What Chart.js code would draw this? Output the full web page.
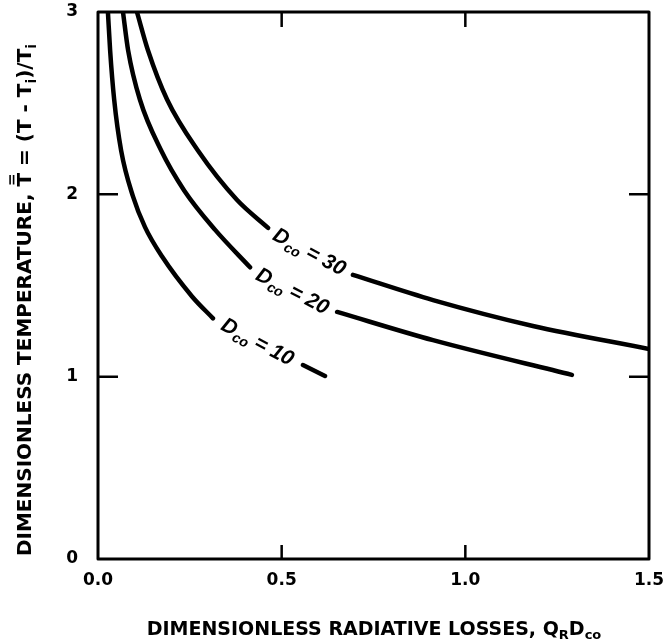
<!DOCTYPE html>
<html>
<head>
<meta charset="utf-8">
<script src="https://cdn.jsdelivr.net/npm/chart.js@4.4.1/dist/chart.umd.min.js"></script>
<style>
  html, body { margin: 0; padding: 0; background: #ffffff; }
  #wrap { width: 663px; height: 644px; position: relative; }
</style>
</head>
<body>
<div id="wrap"><canvas id="c" width="663" height="644"></canvas></div>
<script>
// ---- Data (Q_R D_co vs dimensionless temperature) ----
// null marks the gap where the curve label sits
const d10Q = [0.027, 0.033, 0.044, 0.063, 0.095, 0.128, 0.174, 0.256, 0.313, null, 0.558, 0.618];
const d10T = [3.00, 2.79, 2.52, 2.24, 1.99, 1.82, 1.66, 1.44, 1.32, null, 1.064, 1.004];

const d20Q = [0.068, 0.082, 0.114, 0.172, 0.235, 0.319, 0.414, null, 0.651, 0.912, 1.29];
const d20T = [3.00, 2.79, 2.52, 2.24, 2.02, 1.805, 1.60, null, 1.355, 1.20, 1.01];

const d30Q = [0.106, 0.136, 0.188, 0.272, 0.378, 0.463, null, 0.694, 0.912, 1.184, 1.50];
const d30T = [3.00, 2.79, 2.52, 2.24, 1.97, 1.816, null, 1.558, 1.42, 1.278, 1.152];

const seriesNames = ['10', '20', '30'];
// label anchor (data coords of the label centre) and baseline angle in degrees
const labelQ = [0.436, 0.531, 0.577];
const labelT = [1.196, 1.475, 1.69];
const labelAngle = [28, 27, 28];

const xTicks = [0.0, 0.5, 1.0, 1.5];
const yTicks = [0, 1, 2, 3];

const xTitleParts = [{t: 'DIMENSIONLESS RADIATIVE LOSSES, Q'}, {t: 'R', sub: true}, {t: 'D'}, {t: 'co', sub: true}];
const yTitleParts = [{t: 'DIMENSIONLESS TEMPERATURE, '}, {t: 'T', bar: true}, {t: ' = (T - T'}, {t: 'i', sub: true}, {t: ')/T'}, {t: 'i', sub: true}];

function toPts(xs, ys) {
  return xs.map((x, i) => ({x: x, y: (x === null ? null : ys[i])}));
}

const FONT = '"DejaVu Sans", "Liberation Sans", Arial, sans-serif';
const LFONT = '"Liberation Sans", Arial, Helvetica, sans-serif';

function partFont(p, size, italic, fam) {
  const s = p.sub ? Math.round(size * 0.68) : size;
  return (italic ? 'italic ' : '') + 'bold ' + s + 'px ' + fam;
}

function drawRich(ctx, parts, cx, cy, rot, size, italic, fam) {
  ctx.save();
  ctx.translate(cx, cy);
  ctx.rotate(rot);
  ctx.fillStyle = '#000';
  ctx.strokeStyle = '#000';
  ctx.textBaseline = 'alphabetic';
  ctx.textAlign = 'left';
  let widths = parts.map(p => { ctx.font = partFont(p, size, italic, fam); return ctx.measureText(p.t).width; });
  let total = widths.reduce((a, b) => a + b, 0);
  let x = -total / 2;
  const base = size * 0.36;
  parts.forEach((p, i) => {
    ctx.font = partFont(p, size, italic, fam);
    const y = p.sub ? base + size * 0.22 : base;
    ctx.fillText(p.t, x, y);
    if (p.bar) {
      ctx.lineWidth = 1.6;
      const top = base - size * 0.73;
      ctx.beginPath();
      ctx.moveTo(x + 2, top - 3); ctx.lineTo(x + widths[i] - 2, top - 3);
      ctx.moveTo(x + 2, top - 6.5); ctx.lineTo(x + widths[i] - 2, top - 6.5);
      ctx.stroke();
    }
    x += widths[i];
  });
  ctx.restore();
}

const framePlugin = {
  id: 'framePlugin',
  afterDraw(chart) {
    const ctx = chart.ctx;
    const a = chart.chartArea;
    const xs = chart.scales.x, ys = chart.scales.y;
    ctx.save();
    ctx.strokeStyle = '#000';
    ctx.lineWidth = 3;
    ctx.lineJoin = 'round';
    ctx.strokeRect(a.left, a.top, a.right - a.left, a.bottom - a.top);
    // inward tick marks on all four sides
    ctx.lineWidth = 2.5;
    ctx.beginPath();
    xTicks.slice(1, -1).forEach(v => {
      const px = xs.getPixelForValue(v);
      ctx.moveTo(px, a.bottom); ctx.lineTo(px, a.bottom - 14);
      ctx.moveTo(px, a.top); ctx.lineTo(px, a.top + 15);
    });
    yTicks.slice(1, -1).forEach(v => {
      const py = ys.getPixelForValue(v);
      ctx.moveTo(a.left, py); ctx.lineTo(a.left + 20, py);
      ctx.moveTo(a.right, py); ctx.lineTo(a.right - 20, py);
    });
    ctx.stroke();
    ctx.restore();

    // curve labels  D_co = n
    seriesNames.forEach((n, i) => {
      const px = xs.getPixelForValue(labelQ[i]);
      const py = ys.getPixelForValue(labelT[i]);
      drawRich(ctx, [{t: 'D'}, {t: 'co', sub: true}, {t: ' = ' + n}], px, py, labelAngle[i] * Math.PI / 180, 21, true, LFONT);
    });

    // axis titles
    drawRich(ctx, xTitleParts, 374, 628, 0, 19, false, FONT);
    drawRich(ctx, yTitleParts, 24, 300, -Math.PI / 2, 20, false, FONT);
  }
};

const lineStyle = {
  borderColor: '#000',
  borderWidth: 4.5,
  pointRadius: 0,
  fill: false,
  cubicInterpolationMode: 'monotone',
  spanGaps: false,
  borderCapStyle: 'round'
};

new Chart(document.getElementById('c'), {
  type: 'line',
  data: {
    datasets: [
      Object.assign({label: 'Dco = 10', data: toPts(d10Q, d10T)}, lineStyle),
      Object.assign({label: 'Dco = 20', data: toPts(d20Q, d20T)}, lineStyle),
      Object.assign({label: 'Dco = 30', data: toPts(d30Q, d30T)}, lineStyle)
    ]
  },
  options: {
    responsive: false,
    animation: false,
    events: [],
    layout: { padding: { top: 12, right: 14, left: 0, bottom: 0 } },
    plugins: { legend: { display: false }, tooltip: { enabled: false } },
    scales: {
      x: {
        type: 'linear', min: 0, max: 1.5,
        grid: { display: false }, border: { display: false },
        afterFit(s) { s.height = 85; s.paddingLeft = 0; s.paddingRight = 0; },
        afterBuildTicks(s) { s.ticks = xTicks.map(v => ({value: v})); },
        ticks: {
          color: '#000', padding: 3,
          font: { family: FONT, weight: 'bold', size: 17 },
          callback: v => Number(v).toFixed(1)
        }
      },
      y: {
        type: 'linear', min: 0, max: 3,
        grid: { display: false }, border: { display: false },
        afterFit(s) { s.width = 98; s.paddingTop = 0; s.paddingBottom = 0; },
        afterBuildTicks(s) { s.ticks = yTicks.map(v => ({value: v})); },
        ticks: {
          color: '#000', padding: 12,
          font: { family: FONT, weight: 'bold', size: 17 },
          callback: v => String(v)
        }
      }
    }
  },
  plugins: [framePlugin]
});
</script>
</body>
</html>
